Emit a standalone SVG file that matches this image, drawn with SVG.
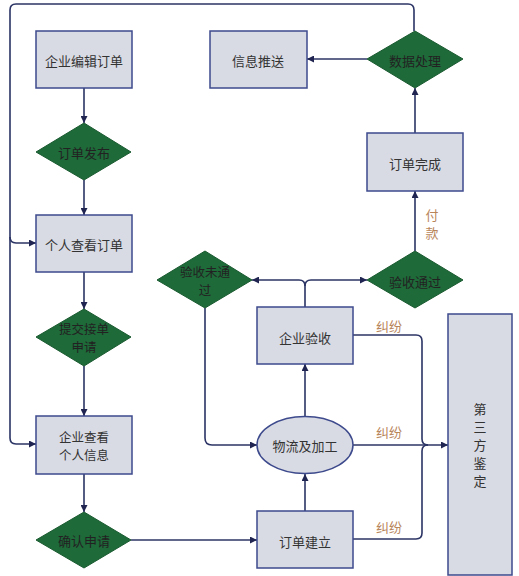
<svg xmlns="http://www.w3.org/2000/svg" width="519" height="576" viewBox="0 0 519 576">
<defs>
<marker id="arr" viewBox="0 0 10 10" refX="10" refY="5" markerWidth="7" markerHeight="7" markerUnits="userSpaceOnUse" orient="auto">
<path d="M0,0 L10,5 L0,10 z" fill="#1f2550"/>
</marker>
<style>
.box{fill:#d9dbe4;stroke:#3d4a8c;stroke-width:1.5}
.dia{fill:#1e6a39;stroke:#1a5a30;stroke-width:1}
.ln{fill:none;stroke:#2b3464;stroke-width:1.6;marker-end:url(#arr)}
.ln2{fill:none;stroke:#2b3464;stroke-width:1.6}
text{font-family:"Noto Sans CJK SC","Liberation Sans",sans-serif;font-size:13px;text-anchor:middle;dominant-baseline:central}
.sm{font-size:12.5px}
.t{fill:#333}
.td{fill:#222}
.lab{fill:#b8855a}
</style>
</defs>
<rect width="519" height="576" fill="#fff"/>
<g id="connectors">
<path class="ln2" d="M414,31 V10 Q414,4 408,4 H16 Q10,4 10,10 V438 Q10,444 16,444 H36" marker-end="url(#arr)"/>
<path class="ln" d="M10,237 Q10,243 16,243 H36"/>
<path class="ln" d="M84,88 V123"/>
<path class="ln" d="M84,180 V215"/>
<path class="ln" d="M84,272 V309"/>
<path class="ln" d="M84,366 V416"/>
<path class="ln" d="M84,474 V512"/>
<path class="ln" d="M131,540 H257"/>
<path class="ln" d="M305,511 V474"/>
<path class="ln" d="M305,416 V364"/>
<path class="ln" d="M305,307 V286 Q305,280 299,280 H252"/>
<path class="ln" d="M305,286 Q305,280 311,280 H367"/>
<path class="ln" d="M205,308 V438 Q205,445 212,445 H257"/>
<path class="ln" d="M415,251 V191"/>
<path class="ln" d="M415,133 V88"/>
<path class="ln" d="M367,59 H307"/>
<path class="ln2" d="M353,335 H416 Q422,335 422,341 V439 Q422,445 428,445"/>
<path class="ln2" d="M353,539 H416 Q422,539 422,533 V451 Q422,445 428,445"/>
<path class="ln" d="M353,445 H448"/>
<text class="lab" x="389" y="325">纠纷</text>
<text class="lab" x="389" y="431">纠纷</text>
<text class="lab" x="389" y="526">纠纷</text>
<text class="lab" x="432" y="214">付</text>
<text class="lab" x="432" y="232">款</text>
</g>
<g id="n1"><rect class="box" x="36" y="31" width="96" height="57"/><text class="t" x="84" y="60">企业编辑订单</text></g>
<g id="n2"><path class="dia" d="M84,123 L131,152 L84,180 L36,152 z"/><text class="td" x="84" y="152">订单发布</text></g>
<g id="n3"><rect class="box" x="36" y="215" width="96" height="57"/><text class="t" x="84" y="244">个人查看订单</text></g>
<g id="n4"><path class="dia" d="M84,309 L131,337 L84,366 L36,337 z"/><text class="td sm" x="84" y="328">提交接单</text><text class="td sm" x="84" y="346">申请</text></g>
<g id="n5"><rect class="box" x="36" y="416" width="96" height="58"/><text class="t sm" x="84" y="436">企业查看</text><text class="t sm" x="84" y="454">个人信息</text></g>
<g id="n6"><path class="dia" d="M84,512 L131,540 L84,568 L36,540 z"/><text class="td" x="84" y="540">确认申请</text></g>
<g id="n7"><rect class="box" x="257" y="511" width="96" height="57"/><text class="t" x="305" y="541">订单建立</text></g>
<g id="n8"><ellipse class="box" cx="305" cy="445" rx="48" ry="28.5"/><text class="t" x="305" y="445">物流及加工</text></g>
<g id="n9"><rect class="box" x="257" y="307" width="96" height="57"/><text class="t" x="305" y="337">企业验收</text></g>
<g id="n10"><path class="dia" d="M205,251 L252,280 L205,308 L157,280 z"/><text class="td sm" x="205" y="271">验收未通</text><text class="td sm" x="205" y="289">过</text></g>
<g id="n11"><path class="dia" d="M415,251 L463,280 L415,308 L367,280 z"/><text class="td" x="415" y="281">验收通过</text></g>
<g id="n12"><rect class="box" x="367" y="133" width="96" height="58"/><text class="t" x="415" y="163">订单完成</text></g>
<g id="n13"><path class="dia" d="M415,31 L463,59 L415,88 L367,59 z"/><text class="td" x="415" y="60">数据处理</text></g>
<g id="n14"><rect class="box" x="210" y="31" width="97" height="57"/><text class="t" x="258" y="60">信息推送</text></g>
<g id="n15"><rect class="box" x="448" y="314" width="64" height="261"/><text class="t" x="480" y="408">第</text><text class="t" x="480" y="426">三</text><text class="t" x="480" y="444">方</text><text class="t" x="480" y="462">鉴</text><text class="t" x="480" y="480">定</text></g>
</svg>
